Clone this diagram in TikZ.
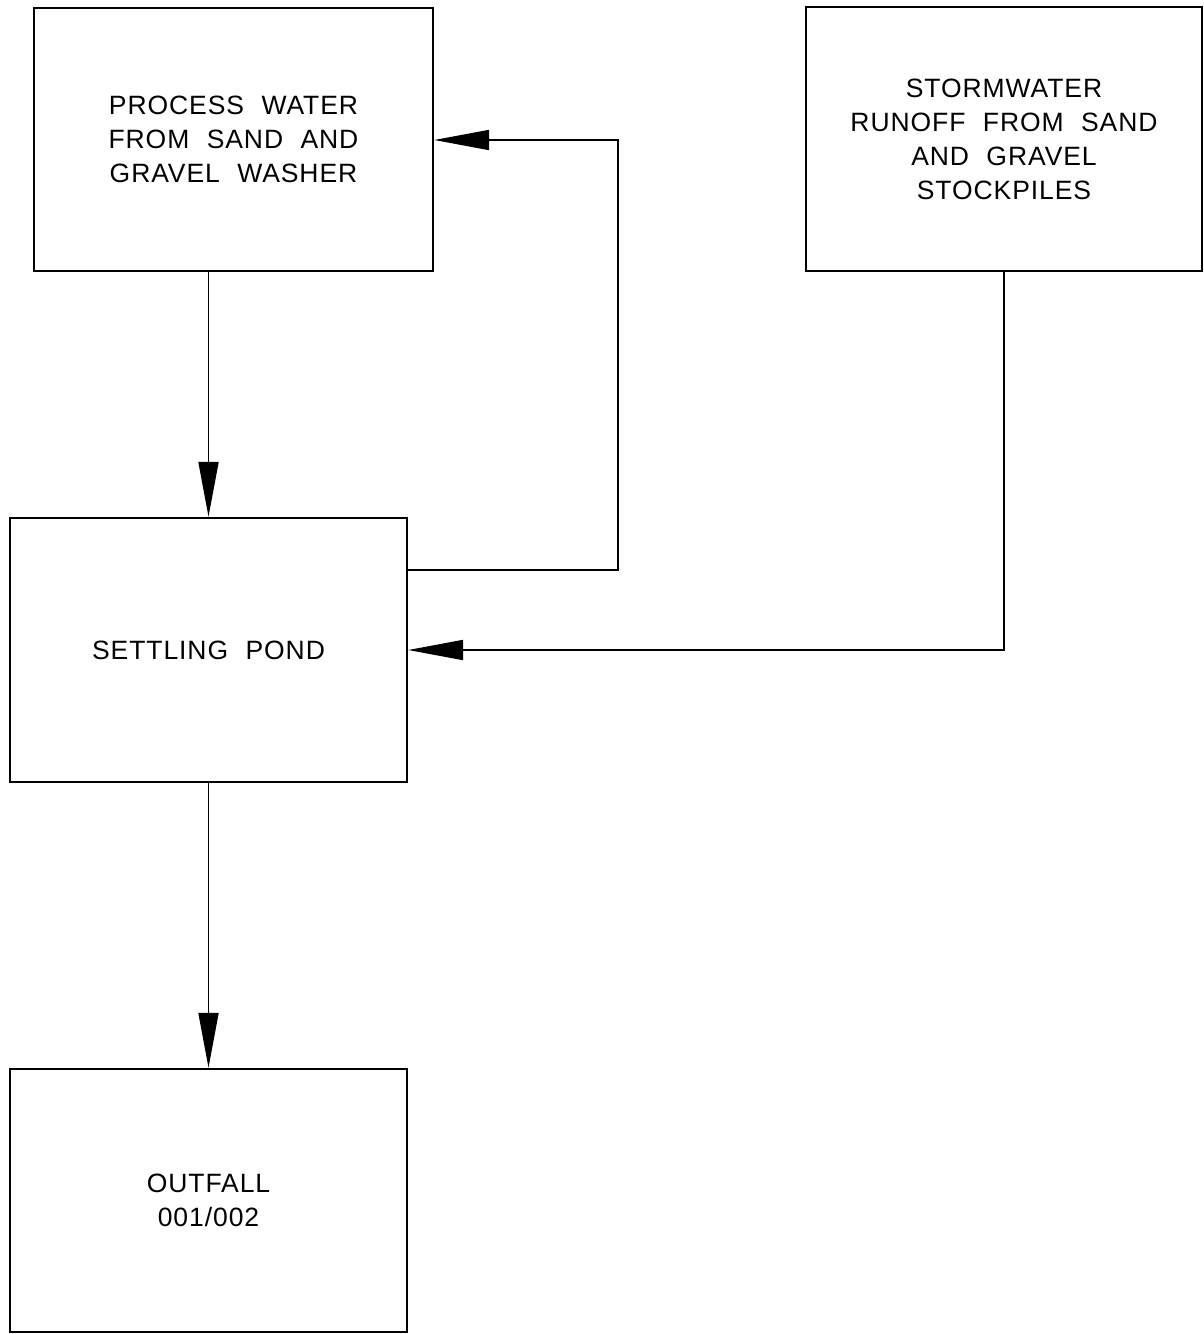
\documentclass[tikz,border=0pt]{standalone}
\usepackage{fontspec}
\setmainfont[LetterSpace=3.5,WordSpace=2.1]{Liberation Sans}
\usetikzlibrary{arrows.meta}
\begin{document}
\begin{tikzpicture}[x=1pt,y=-1pt,
  box/.style={draw, line width=2.4pt, align=center, inner sep=0pt,
    font=\fontsize{26.5}{34}\selectfont},
  flow/.style={line width=1.9pt, -{Triangle[length=55pt,width=20pt]}}]
\useasboundingbox (0,0) rectangle (1204,1334);
\node[box, minimum width=399pt, minimum height=263pt] (proc) at (233.5,139.5)
  {PROCESS WATER\\FROM SAND AND\\GRAVEL WASHER};
\node[box, minimum width=396pt, minimum height=264pt] (storm) at (1004,139)
  {STORMWATER\\RUNOFF FROM SAND\\AND GRAVEL\\STOCKPILES};
\node[box, minimum width=397pt, minimum height=264pt] (settle) at (208.5,650)
  {SETTLING POND};
\node[box, minimum width=397pt, minimum height=263pt] (out) at (208.5,1200.5)
  {OUTFALL\\001/002};
\coordinate (c1) at (618,570);
\coordinate (c2) at (618,140);
\draw[flow] (settle.north |- proc.south) -- (settle.north);
\draw[flow] (settle.east |- c1) -- (c1) -- (c2) -- (proc.east |- c2);
\draw[flow] (storm.south) |- (settle.east);
\draw[flow] (settle.south) -- (out.north);
\end{tikzpicture}
\end{document}
